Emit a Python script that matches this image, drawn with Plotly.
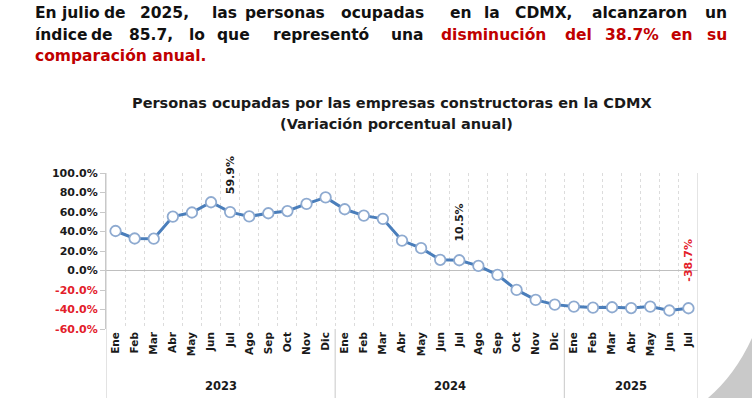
import plotly.graph_objects as go

# ---------------- data ----------------
years = ["2023", "2024", "2025"]
months_2023 = ["Ene", "Feb", "Mar", "Abr", "May", "Jun", "Jul", "Ago", "Sep", "Oct", "Nov", "Dic"]
months_2024 = ["Ene", "Feb", "Mar", "Abr", "May", "Jun", "Jul", "Ago", "Sep", "Oct", "Nov", "Dic"]
months_2025 = ["Ene", "Feb", "Mar", "Abr", "May", "Jun", "Jul"]

values_2023 = [40.5, 32.8, 32.6, 55.3, 59.5, 70.0, 59.9, 55.5, 58.7, 61.0, 68.3, 75.0]
values_2024 = [62.8, 56.3, 53.0, 30.7, 22.9, 11.0, 10.5, 4.7, -4.5, -19.9, -30.2, -35.0]
values_2025 = [-37.0, -38.0, -37.7, -38.5, -37.0, -41.0, -38.7]

y_tick_values = [-60, -40, -20, 0, 20, 40, 60, 80, 100]

labelled_points = [("2023", "Jul", "59.9%"), ("2024", "Jul", "10.5%"), ("2025", "Jul", "-38.7%")]

header_line1 = ["En", "julio", "de", "2025,", "las", "personas", "ocupadas", "en", "la", "CDMX,", "alcanzaron", "un"]
header_line2 = ["índice", "de", "85.7,", "lo", "que", "representó", "una", "disminución", "del", "38.7%", "en", "su"]
header_line3 = "comparación anual."
title_line1 = "Personas ocupadas por las empresas constructoras en la CDMX"
title_line2 = "(Variación porcentual anual)"

# ---------------- styling / layout constants ----------------
W, H = 752, 398
L, R, T, B = 106, 698, 173, 329
FONT = "DejaVu Sans"
RED = "#c00000"
RED2 = "#e3202a"

def fx(px):
    return (px - L) / (R - L)

def fy(py):
    return 1 - (py - T) / (B - T)

groups = [("2023", months_2023, values_2023),
          ("2024", months_2024, values_2024),
          ("2025", months_2025, values_2025)]

xcats, ticktext, yvals = [], [], []
for yr, ms, vs in groups:
    for m, v in zip(ms, vs):
        xcats.append(f"{m} {yr}")
        ticktext.append(f"<b>{m}</b>")
        yvals.append(v)

fig = go.Figure()
fig.add_trace(go.Scatter(
    x=xcats, y=yvals, mode="lines+markers",
    line=dict(color="#4a7ebb", width=3),
    marker=dict(size=10.5, color="white", line=dict(color="#8eaad0", width=1.8)),
    showlegend=False, cliponaxis=False,
))

# point labels
label_shift = [37, 38, 48]
for (yr, m, txt), sh in zip(labelled_points, label_shift):
    key = f"{m} {yr}"
    v = yvals[xcats.index(key)]
    fig.add_annotation(x=key, y=v, text=f"<b>{txt}</b>", showarrow=False,
                       textangle=-90, xanchor="center", yanchor="middle", yshift=sh,
                       font=dict(family=FONT, size=11,
                                 color=RED2 if txt.startswith("-") else "#1a1a1a"))

# year group labels and dividers
start = 0
bounds = [-0.5]
for yr, ms, vs in groups:
    n = len(ms)
    center = start + (n - 1) / 2
    fig.add_annotation(x=center, y=fy(386), xref="x", yref="paper", text=f"<b>{yr}</b>",
                       showarrow=False, xanchor="center", yanchor="middle",
                       font=dict(family=FONT, size=11.5, color="#1a1a1a"))
    start += n
    bounds.append(start - 0.5)
for b in bounds:
    fig.add_shape(type="line", xref="x", yref="paper", x0=b, x1=b,
                  y0=1 if b in (bounds[0], bounds[-1]) else 0,
                  y1=fy(398), line=dict(color="#c8c8c8", width=1))

# header text (justified: word by word; first word left-aligned, last word right-aligned)
line1_ext = [(35, 57), (64, 97), (106, 124), (131, 197), (211, 237), (247, 322), (330, 435),
             (449, 472), (482, 502), (512, 575), (587, 692), (700, 727)]
line2_ext = [(35, 83), (92, 112), (120, 182), (188, 205), (213, 253), (263, 379), (390, 425),
             (437, 549), (565, 592), (605, 659), (670, 694), (704, 727)]
for words, ext, py, red_from in [(header_line1, line1_ext, 13, 99),
                                 (header_line2, line2_ext, 35, 7)]:
    n = len(words)
    for i, (w, (a, b)) in enumerate(zip(words, ext)):
        if i == 0:
            xa, xp = "left", a - 2
        elif i == n - 1:
            xa, xp = "right", b + 2
        else:
            xa, xp = "center", (a + b) / 2
        fig.add_annotation(x=fx(xp), y=fy(py), xref="paper", yref="paper", text=f"<b>{w}</b>",
                           showarrow=False, xanchor=xa, yanchor="middle",
                           font=dict(family=FONT, size=15.5, color=RED if i >= red_from else "#111111"))
fig.add_annotation(x=fx(33), y=fy(56), xref="paper", yref="paper", text=f"<b>{header_line3}</b>",
                   showarrow=False, xanchor="left", yanchor="middle",
                   font=dict(family=FONT, size=15.5, color=RED))

fig.add_annotation(x=fx(392), y=fy(103), xref="paper", yref="paper", text=f"<b>{title_line1}</b>",
                   showarrow=False, xanchor="center", yanchor="middle",
                   font=dict(family=FONT, size=14.5, color="#1a1a1a"))
fig.add_annotation(x=fx(396), y=fy(124), xref="paper", yref="paper", text=f"<b>{title_line2}</b>",
                   showarrow=False, xanchor="center", yanchor="middle",
                   font=dict(family=FONT, size=14.5, color="#1a1a1a"))

# decorative grey arc in bottom-right corner
p = lambda px, py: f"{fx(px):.4f},{fy(py):.4f}"
fig.add_shape(type="path", xref="paper", yref="paper",
              path=f"M {p(708,398)} Q {p(735,375)} {p(752,338)} L {p(752,398)} Z",
              fillcolor="#c9c9c9", line=dict(width=0), layer="above")

ytext = []
for v in y_tick_values:
    t = f"<b>{v:.1f}%</b>"
    ytext.append(f"<span style='color:{RED2}'>{t}</span>" if v < 0 else t)

fig.update_layout(
    width=W, height=H, margin=dict(l=L, r=W - R, t=T, b=H - B),
    paper_bgcolor="white", plot_bgcolor="white",
    font=dict(family=FONT, size=11, color="#1a1a1a"),
    xaxis=dict(type="category", range=[-0.5, len(xcats) - 0.5], tickmode="array",
               tickvals=xcats, ticktext=ticktext, tickangle=-90, tickson="boundaries",
               showgrid=True, gridcolor="#dcdcdc", griddash="dot", gridwidth=1,
               showline=False, ticks="", tickfont=dict(family=FONT, size=10.5, color="#1a1a1a"),
               zeroline=False, automargin=False),
    yaxis=dict(range=[-60, 100], tickmode="array", tickvals=y_tick_values, ticktext=ytext,
               showgrid=False, zeroline=True, zerolinecolor="#bfbfbf", zerolinewidth=1,
               showline=True, linecolor="#c8c8c8", linewidth=1, ticks="outside", ticklen=5,
               tickcolor="#c8c8c8", tickfont=dict(family=FONT, size=11, color="#1a1a1a"),
               automargin=False),
)

fig.write_html("out.html", config={"displayModeBar": False},
               post_script="document.body.style.margin='0';")
